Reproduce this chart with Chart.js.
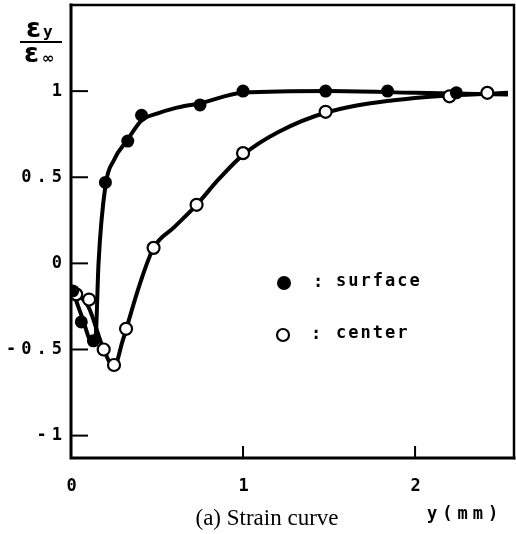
<!DOCTYPE html>
<html>
<head>
<meta charset="utf-8">
<script src="https://cdn.jsdelivr.net/npm/chart.js@4/dist/chart.umd.min.js"></script>
<style>
  html, body { margin: 0; padding: 0; background: #fff; }
  canvas { display: block; }
</style>
</head>
<body>
<canvas id="strainChart" width="516" height="534"></canvas>
<script>
// measured points
const surfaceX = [0.01, 0.06, 0.13, 0.2, 0.33, 0.41, 0.75, 1.0, 1.48, 1.84, 2.24];
const surfaceY = [-0.16, -0.34, -0.45, 0.47, 0.71, 0.86, 0.92, 1.0, 1.0, 1.0, 0.99];
const centerX = [0.03, 0.105, 0.19, 0.25, 0.32, 0.48, 0.73, 1.0, 1.48, 2.2, 2.42];
const centerY = [-0.18, -0.21, -0.5, -0.59, -0.38, 0.09, 0.34, 0.64, 0.88, 0.97, 0.99];

// fitted curves
const surfaceCurveX = [0, 0.06, 0.13, 0.145, 0.16, 0.2, 0.25, 0.33, 0.41, 0.5, 0.6, 0.75, 1.0, 1.5, 2.0, 2.54];
const surfaceCurveY = [-0.13, -0.3, -0.47, -0.4, 0.0, 0.45, 0.6, 0.72, 0.83, 0.87, 0.9, 0.93, 0.99, 1.0, 0.99, 0.98];
const centerCurveX = [0, 0.1, 0.19, 0.25, 0.3, 0.4, 0.48, 0.6, 0.73, 0.86, 1.0, 1.2, 1.5, 2.0, 2.54];
const centerCurveY = [-0.15, -0.25, -0.5, -0.6, -0.45, -0.12, 0.09, 0.21, 0.34, 0.49, 0.63, 0.76, 0.88, 0.96, 0.99];

const xTicks = [0, 1, 2];
const yTicks = [-1, -0.5, 0, 0.5, 1];

const MONO = "'DejaVu Sans Mono', monospace";

function pts(xs, ys) {
  return xs.map((x, i) => ({ x: x, y: ys[i] }));
}

const framePlugin = {
  id: "frame",
  // chart.js keeps a 5px margin on the right; pin the plot box to the figure's frame
  afterLayout(chart) {
    const area = chart.chartArea;
    const xs = chart.scales.x, ys = chart.scales.y;
    area.right = 514;
    area.top = 5;
    area.width = area.right - area.left;
    area.height = area.bottom - area.top;
    xs.right = 514;
    xs.width = xs.right - xs.left;
    xs.configure();
    ys.top = 5;
    ys.height = ys.bottom - ys.top;
    ys.configure();
  },
  beforeDraw(chart) {
    chart.ctx.letterSpacing = "5px";
  },
  beforeDatasetsDraw(chart) {
    const ctx = chart.ctx;
    const a = chart.chartArea;
    const xs = chart.scales.x, ys = chart.scales.y;
    ctx.save();
    ctx.letterSpacing = "0px";
    ctx.strokeStyle = "#000";
    ctx.lineCap = "square";
    // frame
    ctx.lineWidth = 3;
    ctx.beginPath();
    ctx.moveTo(a.left, a.top); ctx.lineTo(a.left, a.bottom); ctx.lineTo(a.right, a.bottom);
    ctx.stroke();
    ctx.lineWidth = 2.5;
    ctx.beginPath();
    ctx.moveTo(a.left, a.top); ctx.lineTo(a.right, a.top); ctx.lineTo(a.right, a.bottom);
    ctx.stroke();
    // inward ticks
    ctx.lineWidth = 2;
    ctx.lineCap = "butt";
    yTicks.forEach(v => {
      const p = ys.getPixelForValue(v);
      ctx.beginPath(); ctx.moveTo(a.left, p); ctx.lineTo(a.left + 17, p); ctx.stroke();
    });
    xTicks.forEach(v => {
      if (v === 0) return;
      const p = xs.getPixelForValue(v);
      ctx.beginPath(); ctx.moveTo(p, a.bottom); ctx.lineTo(p, a.bottom - 12); ctx.stroke();
    });
    ctx.restore();
  },
  afterDraw(chart) {
    const ctx = chart.ctx;
    ctx.save();
    ctx.fillStyle = "#000";
    ctx.strokeStyle = "#000";
    ctx.letterSpacing = "0px";

    // y axis title: eps_y / eps_inf
    ctx.textBaseline = "alphabetic";
    ctx.textAlign = "left";
    ctx.font = "bold 27px 'DejaVu Sans', sans-serif";
    ctx.fillText("ε", 26, 37);
    ctx.font = "bold 16px " + MONO;
    ctx.fillText("y", 43, 37);
    ctx.lineWidth = 2.2;
    ctx.beginPath(); ctx.moveTo(20, 42); ctx.lineTo(62, 42); ctx.stroke();
    ctx.font = "bold 27px 'DejaVu Sans', sans-serif";
    ctx.fillText("ε", 24, 62);
    ctx.font = "bold 15px 'DejaVu Sans', sans-serif";
    ctx.fillText("∞", 42, 63);

    // legend
    ctx.beginPath(); ctx.arc(284, 283, 7, 0, Math.PI * 2); ctx.fill();
    ctx.beginPath(); ctx.arc(283, 335, 6, 0, Math.PI * 2);
    ctx.fillStyle = "#fff"; ctx.fill(); ctx.lineWidth = 2.2; ctx.stroke();
    ctx.fillStyle = "#000";
    ctx.font = "bold 17px " + MONO;
    ctx.textBaseline = "middle";
    ctx.letterSpacing = "2px";
    ctx.fillText(":", 313, 283);
    ctx.fillText("surface", 336, 282);
    ctx.fillText(":", 311, 335);
    ctx.fillText("center", 336, 334);

    // axis unit
    ctx.letterSpacing = "5px";
    ctx.fillText("y(mm)", 427, 515);

    // caption
    ctx.letterSpacing = "0px";
    ctx.textAlign = "center";
    ctx.font = "23px 'Liberation Serif', serif";
    ctx.fillText("(a) Strain curve", 267, 519);
    ctx.restore();
  }
};

new Chart(document.getElementById("strainChart"), {
  type: "scatter",
  data: {
    datasets: [
      {
        label: "surface",
        data: pts(surfaceX, surfaceY),
        showLine: false,
        pointRadius: 6.5,
        pointBackgroundColor: "#000",
        pointBorderColor: "#000",
        pointBorderWidth: 0,
        order: 0
      },
      {
        label: "center",
        data: pts(centerX, centerY),
        showLine: false,
        pointRadius: 6,
        pointBackgroundColor: "#fff",
        pointBorderColor: "#000",
        pointBorderWidth: 2.2,
        order: 0
      },
      {
        label: "surface curve",
        data: pts(surfaceCurveX, surfaceCurveY),
        showLine: true,
        pointRadius: 0,
        borderColor: "#000",
        borderWidth: 4,
        cubicInterpolationMode: "monotone",
        order: 1
      },
      {
        label: "center curve",
        data: pts(centerCurveX, centerCurveY),
        showLine: true,
        pointRadius: 0,
        borderColor: "#000",
        borderWidth: 4,
        cubicInterpolationMode: "monotone",
        order: 1
      }
    ]
  },
  options: {
    responsive: false,
    animation: false,
    devicePixelRatio: 1,
    layout: { padding: { left: 0, right: 0, top: 5, bottom: 0 } },
    plugins: {
      legend: { display: false },
      tooltip: { enabled: false }
    },
    scales: {
      x: {
        type: "linear",
        min: 0,
        max: 2.575,
        grid: { display: false, drawTicks: false },
        border: { display: false },
        afterBuildTicks(scale) { scale.ticks = xTicks.map(v => ({ value: v })); },
        afterFit(scale) { scale.height = 76; },
        ticks: {
          color: "#000",
          padding: 18,
          labelOffset: 3,
          callback: v => String(v),
          font: { family: MONO, size: 17, weight: "bold" }
        }
      },
      y: {
        type: "linear",
        min: -1.13,
        max: 1.5,
        grid: { display: false, drawTicks: false },
        border: { display: false },
        afterBuildTicks(scale) { scale.ticks = yTicks.map(v => ({ value: v })); },
        afterFit(scale) { scale.width = 71; },
        ticks: {
          color: "#000",
          padding: 4,
          callback: v => String(v),
          font: { family: MONO, size: 17, weight: "bold" }
        }
      }
    }
  },
  plugins: [framePlugin]
});
</script>
</body>
</html>
